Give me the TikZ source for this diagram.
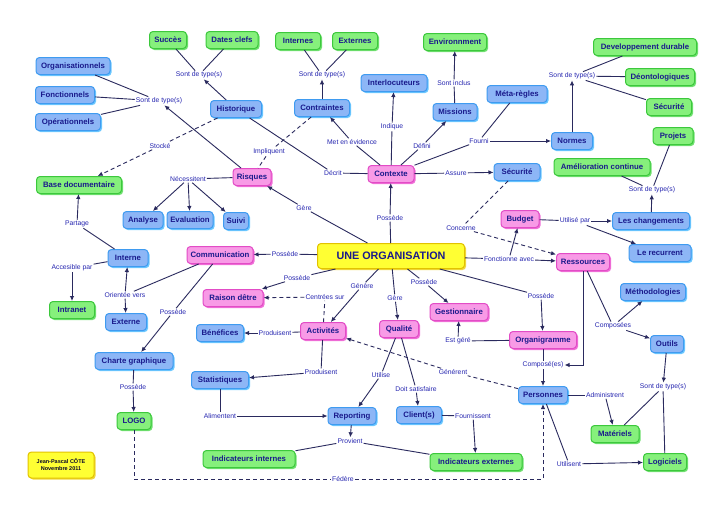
\documentclass[tikz,border=0pt]{standalone}
\usepackage{fontspec}
\setmainfont{Liberation Sans}
\usetikzlibrary{arrows.meta,shadows}
\definecolor{txt}{HTML}{1A1A8C}
\definecolor{labc}{HTML}{2626B0}
\definecolor{linec}{HTML}{2A2A5E}
\definecolor{bluef}{HTML}{8DB6F6}
\definecolor{blueb}{HTML}{3F9BF0}
\definecolor{blues}{HTML}{6CC8FF}
\definecolor{greenf}{HTML}{86F07C}
\definecolor{greenb}{HTML}{3CC83C}
\definecolor{greens}{HTML}{70E070}
\definecolor{pinkf}{HTML}{F89AE6}
\definecolor{pinkb}{HTML}{E24CC6}
\definecolor{pinks}{HTML}{F070D8}
\definecolor{yelf}{HTML}{FFFF33}
\definecolor{yelb}{HTML}{E2C200}
\definecolor{yels}{HTML}{F0D840}
\begin{document}
\begin{tikzpicture}[x=1pt,y=-1pt,
 box/.style={rounded corners=3.5pt, line width=1pt, inner xsep=2.5pt, inner ysep=2pt,
   minimum height=17pt, text=txt, font=\bfseries\fontsize{7.8}{9}\selectfont},
 bl/.style={box, draw=blueb, fill=bluef, general shadow={fill=blues, shadow xshift=1.5pt, shadow yshift=-1.5pt}},
 gr/.style={box, draw=greenb, fill=greenf, general shadow={fill=greens, shadow xshift=1.5pt, shadow yshift=-1.5pt}},
 pk/.style={box, draw=pinkb, fill=pinkf, general shadow={fill=pinks, shadow xshift=1.5pt, shadow yshift=-1.5pt}},
 yl/.style={box, draw=yelb, fill=yelf, general shadow={fill=yels, shadow xshift=1.5pt, shadow yshift=-1.5pt}},
 lab/.style={font=\fontsize{6.8}{8}\selectfont, text=labc, fill=white, inner sep=1pt},
 ln/.style={draw=linec, line width=0.9pt},
 ar/.style={ln, -{Latex[length=5pt,width=4.5pt]}},
 ds/.style={ln, dash pattern=on 4pt off 3pt},
 dsa/.style={ds, -{Latex[length=5pt,width=4.5pt]}},
]
\fill[white] (0,0) rectangle (728,515);
\useasboundingbox (0,0) rectangle (728,515);

% ---- nodes: blue
\node[bl, minimum width=74pt] (org1) at (73,66) {Organisationnels};
\node[bl, minimum width=59pt] (fonc) at (65,95) {Fonctionnels};
\node[bl, minimum width=65pt] (oper) at (68,122) {Opérationnels};
\node[bl, minimum width=51pt] (hist) at (236,109) {Historique};
\node[bl, minimum width=55pt] (contr) at (322,108) {Contraintes};
\node[bl, minimum width=66pt] (interl) at (394,83) {Interlocuteurs};
\node[bl, minimum width=44pt] (miss) at (455,112) {Missions};
\node[bl, minimum width=60pt] (meta) at (517,94) {Méta-règles};
\node[bl, minimum width=41pt] (normes) at (572,141) {Normes};
\node[bl, minimum width=46pt] (secb) at (517,172) {Sécurité};
\node[bl, minimum width=77pt] (chg) at (651,221) {Les changements};
\node[bl, minimum width=62pt] (recur) at (660,253) {Le recurrent};
\node[bl, minimum width=40pt] (analyse) at (143,220) {Analyse};
\node[bl, minimum width=46pt] (eval) at (190,220) {Evaluation};
\node[bl, minimum width=25pt] (suivi) at (236,221) {Suivi};
\node[bl, minimum width=40pt] (interne) at (128,258) {Interne};
\node[bl, minimum width=41pt] (externe) at (126,322) {Externe};
\node[bl, minimum width=47pt] (benef) at (220,333) {Bénéfices};
\node[bl, minimum width=65pt] (methodo) at (653,292) {Méthodologies};
\node[bl, minimum width=33pt] (outils) at (667,344) {Outils};
\node[bl, minimum width=78pt] (charte) at (134,361) {Charte graphique};
\node[bl, minimum width=57pt] (stats) at (220,380) {Statistiques};
\node[bl, minimum width=48pt] (report) at (352,416) {Reporting};
\node[bl, minimum width=45pt] (client) at (419,415) {Client(s)};
\node[bl, minimum width=49pt] (pers) at (543,395) {Personnes};

% ---- nodes: green
\node[gr, minimum width=37pt] (succes) at (168,40) {Succès};
\node[gr, minimum width=52pt] (dates) at (232,40) {Dates clefs};
\node[gr, minimum width=45pt] (internes) at (298,41) {Internes};
\node[gr, minimum width=45pt] (externes) at (355,41) {Externes};
\node[gr, minimum width=63pt] (env) at (455,42) {Environnment};
\node[gr, minimum width=103pt] (devdur) at (645,47) {Developpement durable};
\node[gr, minimum width=69pt] (deon) at (660,77) {Déontologiques};
\node[gr, minimum width=45pt] (secg) at (669,107) {Sécurité};
\node[gr, minimum width=40pt] (projets) at (673,136) {Projets};
\node[gr, minimum width=96pt] (amelio) at (602,167) {Amélioration continue};
\node[gr, minimum width=85pt] (basedoc) at (79,185) {Base documentaire};
\node[gr, minimum width=45pt] (intranet) at (72,310) {Intranet};
\node[gr, minimum width=34pt] (logo) at (134,421) {LOGO};
\node[gr, minimum width=48pt] (matos) at (615,434) {Matériels};
\node[gr, minimum width=43pt] (logic) at (665,462) {Logiciels};
\node[gr, minimum width=92pt] (indint) at (249,459) {Indicateurs internes};
\node[gr, minimum width=92pt] (indext) at (476,462) {Indicateurs externes};

% ---- nodes: pink
\node[pk, minimum width=38pt] (risques) at (252,177) {Risques};
\node[pk, minimum width=46pt] (contexte) at (391,174) {Contexte};
\node[pk, minimum width=66pt] (comm) at (220,255) {Communication};
\node[pk, minimum width=60pt] (raison) at (233,298) {Raison dêtre};
\node[pk, minimum width=45pt] (activ) at (323,331) {Activités};
\node[pk, minimum width=39pt] (qual) at (399,329) {Qualité};
\node[pk, minimum width=58pt] (gest) at (459,312) {Gestionnaire};
\node[pk, minimum width=67pt] (organi) at (543,340) {Organigramme};
\node[pk, minimum width=38pt] (budget) at (520,219) {Budget};
\node[pk, minimum width=53pt] (ress) at (583,262) {Ressources};

% ---- nodes: yellow
\node[yl, minimum width=147pt, minimum height=25pt, font=\bfseries\fontsize{10.8}{13}\selectfont] (org) at (391,256) {UNE ORGANISATION};
\node[yl, minimum width=66pt, minimum height=26pt, align=center, text=black!70!txt, font=\bfseries\fontsize{5.5}{7}\selectfont] (auth) at (61,465) {Jean-Pascal CÔTE\\Novembre 2011};

% ---- link labels
\node[lab] (l1) at (199,75) {Sont de type(s)};
\node[lab] (l2) at (159,101) {Sont de type(s)};
\node[lab] (l3) at (322,75) {Sont de type(s)};
\node[lab] (l4) at (454,83) {Sont inclus};
\node[lab] (l5) at (572,76) {Sont de type(s)};
\node[lab] (l6) at (652,190) {Sont de type(s)};
\node[lab] (l7) at (663,387) {Sont de type(s)};
\node[lab] (lstocke) at (160,146) {Stocké};
\node[lab] (limpl) at (269,152) {Impliquent};
\node[lab] (lmet) at (352,142) {Met en évidence};
\node[lab] (lind) at (392,127) {Indique};
\node[lab] (ldef) at (422,146) {Défini};
\node[lab] (lfourni) at (479,141) {Fourni};
\node[lab] (ldecrit) at (333,173) {Décrit};
\node[lab] (lassure) at (456,173) {Assure};
\node[lab] (lnec) at (188,179) {Nécessitent};
\node[lab] (lgere) at (304,208) {Gère};
\node[lab] (lconc) at (461,228) {Concerne};
\node[lab] (lpossctx) at (390,218) {Possède};
\node[lab] (lutil) at (575,221) {Utilisé par};
\node[lab] (lpart) at (77,224) {Partage};
\node[lab] (lposscomm) at (285,254) {Possède};
\node[lab] (lfonct) at (509,259) {Fonctionne avec};
\node[lab] (lacces) at (72,268) {Accesible par};
\node[lab] (lorient) at (125,295) {Orientée vers};
\node[lab] (lpossrais) at (297,278) {Possède};
\node[lab] (lcentr) at (325,297) {Centrées sur};
\node[lab] (lgenere) at (362,286) {Génère};
\node[lab] (lgereq) at (395,298) {Gère};
\node[lab] (lpossgest) at (424,282) {Possède};
\node[lab] (lpossorg) at (541,296) {Possède};
\node[lab] (lposschart) at (173,312) {Possède};
\node[lab] (lprod1) at (275,333) {Produisent};
\node[lab] (lestgere) at (458,341) {Est géré};
\node[lab] (lcomposees) at (613,326) {Composées};
\node[lab] (lprod2) at (321,372) {Produisent};
\node[lab] (lutilise) at (381,375) {Utilise};
\node[lab] (ldoit) at (416,389) {Doit satisfaire};
\node[lab] (lgenerent) at (453,372) {Générent};
\node[lab] (lcompose) at (543,365) {Composé(es)};
\node[lab] (ladmin) at (605,395) {Administrent};
\node[lab] (lpossl) at (133,387) {Possède};
\node[lab] (lalim) at (220,416) {Alimentent};
\node[lab] (lfourn) at (473,416) {Fournissent};
\node[lab] (lprov) at (350,441) {Provient};
\node[lab] (lutilisent) at (569,464) {Utilisent};
\node[lab] (lfed) at (343,479) {Fédère};

% ---- connectors
\draw[ar] (hist) -- (l1);
\draw[ln] (l1) -- (succes);
\draw[ln] (l1) -- (dates);
\draw[ar] (risques) -- (l2);
\draw[ln] (l2) -- (org1);
\draw[ln] (l2) -- (fonc);
\draw[ln] (l2) -- (oper);
\draw[ds] (hist) -- (lstocke);
\draw[dsa] (lstocke) -- (basedoc);
\draw[ar] (contr) -- (l3);
\draw[ln] (l3) -- (internes);
\draw[ln] (l3) -- (externes);
\draw[ds] (contr) -- (limpl) -- (risques);
\draw[ln] (hist) -- (ldecrit) -- (contexte);
\draw[ln] (contexte) -- (lmet);
\draw[ar] (lmet) -- (contr);
\draw[ln] (contexte) -- (lind);
\draw[ar] (lind) -- (interl);
\draw[ln] (contexte) -- (ldef);
\draw[ar] (ldef) -- (miss);
\draw[ln] (miss) -- (l4);
\draw[ar] (l4) -- (env);
\draw[ln] (contexte) -- (lfourni);
\draw[ar] (lfourni) -- (normes);
\draw[ln] (meta) -- (lfourni);
\draw[ar] (normes) -- (l5);
\draw[ln] (l5) -- (devdur);
\draw[ln] (l5) -- (deon);
\draw[ln] (l5) -- (secg);
\draw[ln] (contexte) -- (lassure);
\draw[ar] (lassure) -- (secb);
\draw[ds] (secb) -- (lconc);
\draw[dsa] (lconc) -- (ress);
\draw[ln] (risques) -- (lnec);
\draw[ar] (lnec) -- (analyse);
\draw[ar] (lnec) -- (eval);
\draw[ar] (lnec) -- (suivi);
\draw[ln] (org) -- (lgere);
\draw[ar] (lgere) -- (risques);
\draw[ln] (org) -- (lpossctx);
\draw[ar] (lpossctx) -- (contexte);
\draw[ln] (org) -- (lposscomm);
\draw[ar] (lposscomm) -- (comm);
\draw[ln] (org) -- (lpossrais);
\draw[ar] (lpossrais) -- (raison);
\draw[ln] (org) -- (lgenere);
\draw[ar] (lgenere) -- (activ);
\draw[ln] (org) -- (lgereq);
\draw[ar] (lgereq) -- (qual);
\draw[ln] (org) -- (lpossgest);
\draw[ar] (lpossgest) -- (gest);
\draw[ln] (org) -- (lpossorg);
\draw[ar] (lpossorg) -- (organi);
\draw[ln] (org) -- (lfonct);
\draw[ar] (lfonct) -- (ress);
\draw[ar] (lfonct) -- (budget);
\draw[ln] (budget) -- (lutil);
\draw[ar] (lutil) -- (chg);
\draw[ar] (lutil) -- (recur);
\draw[ar] (chg) -- (l6);
\draw[ln] (l6) -- (amelio);
\draw[ln] (l6) -- (projets);
\draw[ln] (comm) -- (lorient);
\draw[ar] (lorient) -- (interne);
\draw[ar] (lorient) -- (externe);
\draw[ln] (interne) -- (lpart);
\draw[ar] (lpart) -- (basedoc);
\draw[ln] (interne) -- (lacces);
\draw[ar] (lacces) -- (intranet);
\draw[ln] (comm) -- (lposschart);
\draw[ar] (lposschart) -- (charte);
\draw[ln] (charte) -- (lpossl);
\draw[ar] (lpossl) -- (logo);
\draw[ds] (activ) -- (lcentr);
\draw[dsa] (lcentr) -- (raison);
\draw[ln] (activ) -- (lprod1);
\draw[ar] (lprod1) -- (benef);
\draw[ln] (activ) -- (lprod2);
\draw[ar] (lprod2) -- (stats);
\draw[ln] (stats) -- (lalim);
\draw[ar] (lalim) -- (report);
\draw[ln] (qual) -- (lutilise);
\draw[ar] (lutilise) -- (report);
\draw[ln] (qual) -- (ldoit);
\draw[ar] (ldoit) -- (client);
\draw[ds] (pers) -- (lgenerent);
\draw[dsa] (lgenerent) -- (activ);
\draw[ln] (client) -- (lfourn);
\draw[ar] (lfourn) -- (indext);
\draw[ar] (report) -- (lprov);
\draw[ln] (lprov) -- (indint);
\draw[ln] (lprov) -- (indext);
\draw[ln] (organi) -- (lestgere);
\draw[ar] (lestgere) -- (gest);
\draw[ln] (organi) -- (lcompose);
\draw[ar] (lcompose) -- (pers);
\draw[ar] (ress.south) |- (lcompose.east);
\draw[ln] (ress) -- (lcomposees);
\draw[ar] (lcomposees) -- (methodo);
\draw[ar] (lcomposees) -- (outils);
\draw[ar] (outils) -- (l7);
\draw[ln] (l7) -- (matos);
\draw[ln] (l7) -- (logic);
\draw[ln] (pers) -- (ladmin);
\draw[ar] (ladmin) -- (matos);
\draw[ln] (pers) -- (lutilisent);
\draw[ar] (lutilisent) -- (logic);
\draw[ds] (logo.south) |- (lfed.west);
\draw[dsa] (lfed.east) -| (pers.south);
\end{tikzpicture}
\end{document}
